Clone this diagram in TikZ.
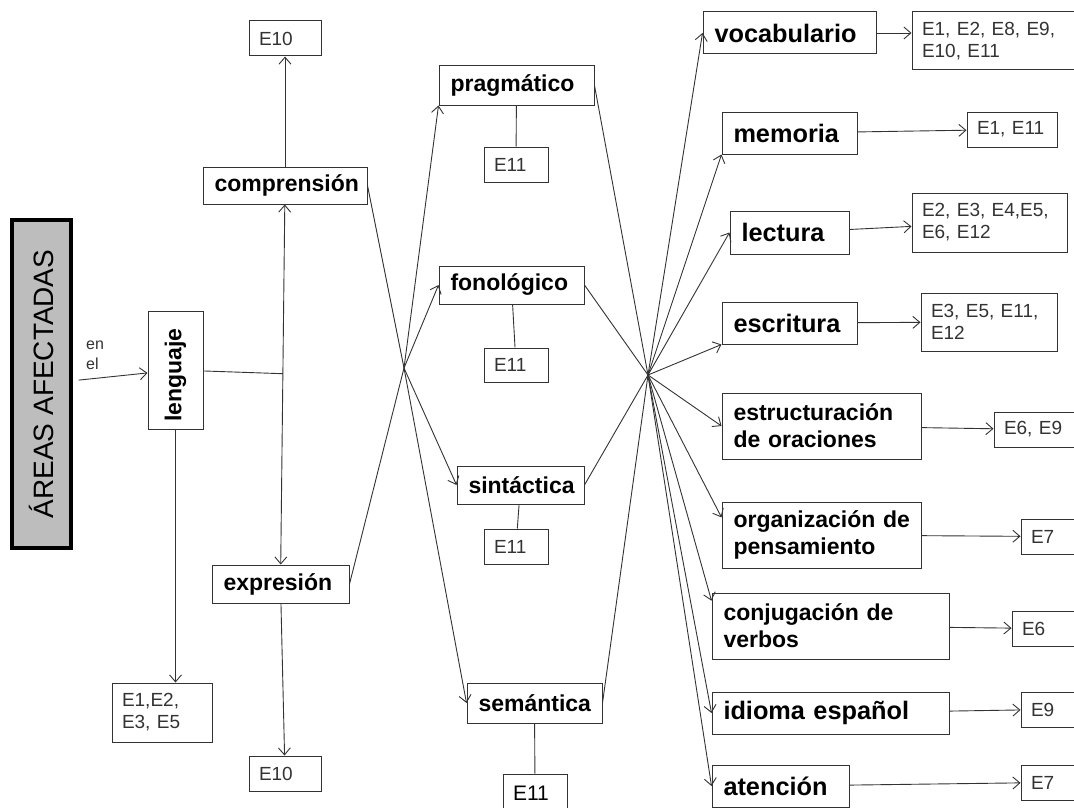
\documentclass[tikz,border=0pt]{standalone}
\usepackage{fontspec}
\setmainfont{Liberation Sans}
\usetikzlibrary{arrows.meta,calc}
\tikzset{
    box/.style={draw=black!80, line width=1pt, fill=white, inner xsep=11.5pt, inner ysep=0pt, align=left},
    lab/.style={box, font=\fontsize{23}{27}\selectfont\bfseries},
    labb/.style={lab, font=\fontsize{25.3}{29}\selectfont\bfseries},
    ref/.style={box, inner xsep=10pt, font=\fontsize{19}{22}\selectfont, text=black!80},
    sz/.style n args={3}{minimum width=#1pt, minimum height=#2pt, text width=#3pt},
    ln/.style={draw=black!80, line width=0.9pt},
    arr/.style={ln, -{Straight Barb[length=7pt,width=12pt]}},
    arrs/.style={ln, {Straight Barb[length=7pt,width=12pt]}-{Straight Barb[length=7pt,width=12pt]}}
}
\begin{document}
\begin{tikzpicture}[x=1pt, y=-1pt]
        \useasboundingbox (0,0) rectangle (1074,808);
        \node[draw=black, line width=3.5pt, fill=black!26, rotate=90, minimum width=328pt, minimum height=59pt, font=\fontsize{28}{32}\selectfont] (areas) at (41.5,384) {ÁREAS AFECTADAS\hspace{32pt}};
        \node[anchor=west, inner sep=0pt, align=left, text=black!80, font=\fontsize{16}{20}\selectfont] (enel) at (86,355) {en\\el};
        \node[box, rotate=90, inner xsep=0pt, minimum width=118pt, minimum height=55pt, font=\fontsize{23}{26}\selectfont\bfseries] (leng) at (175.5,370) {lenguaje\hspace{10pt}};
        \node[lab, sz={164}{37}{141}] (compr) at (285,185.5) {comprensión};
        \node[lab, sz={137}{38}{114}] (expr) at (280.5,584) {expresión};
        \node[ref, sz={72}{35}{52}] (e10a) at (285,38.5) {E10};
        \node[ref, sz={72}{35}{52}] (e10b) at (285,773.5) {E10};
        \node[ref, sz={100}{59}{80}] (elen) at (162,712.5) {E1,E2,\\E3, E5};
        \node[lab, sz={155}{39}{132}] (prag) at (516.5,85.5) {pragmático};
        \node[lab, sz={145}{38}{122}] (fono) at (511.5,285) {fonológico};
        \node[lab, sz={127}{38}{104}] (sint) at (520.5,485) {sintáctica};
        \node[lab, sz={135}{40}{112}] (sem) at (534.5,703) {semántica};
        \node[ref, sz={64}{35}{44}] (e11a) at (516,164.5) {E11};
        \node[ref, sz={64}{34}{44}] (e11b) at (516,365) {E11};
        \node[ref, sz={64}{35}{44}] (e11c) at (516,546.5) {E11};
        \node[ref, sz={64}{38}{44}, text=black, font=\fontsize{21}{24}\selectfont] (e11d) at (535,793) {E11};
        \node[labb, sz={173}{42}{150}] (vocab) at (789.5,33) {vocabulario};
        \node[labb, sz={135}{42}{112}] (mem) at (789.5,133) {memoria};
        \node[labb, sz={119}{43}{96}] (lect) at (789.5,232.5) {lectura};
        \node[labb, sz={135}{42}{112}] (escr) at (789.5,323) {escritura};
        \node[lab, sz={199}{66}{176}] (estr) at (821.5,426) {estructuración\\de oraciones};
        \node[lab, sz={199}{66}{176}] (org) at (821.5,535) {organización~de\\pensamiento};
        \node[lab, sz={237}{66}{214}] (conj) at (830.5,626) {conjugación de\\verbos};
        \node[labb, sz={237}{42}{214}] (idio) at (830.5,713) {idioma español};
        \node[labb, sz={137}{42}{114}] (aten) at (780.5,786) {atención};
        \node[ref, sz={164}{58}{144}] (ev) at (994,41) {E1, E2, E8, E9,\\E10, E11};
        \node[ref, sz={90}{35}{70}] (em) at (1012,129.5) {E1,~E11};
        \node[ref, sz={155}{59}{135}] (el) at (989.5,222.5) {E2, E3, E4,E5,\\E6, E12};
        \node[ref, sz={136}{58}{116}] (ee) at (989,322) {E3, E5, E11,\\E12};
        \node[ref, sz={90}{35}{70}] (eest) at (1039,429.5) {E6,~E9};
        \node[ref, sz={55}{35}{35}] (eorg) at (1048.5,536.5) {E7};
        \node[ref, sz={64}{35}{44}] (econj) at (1044,628.5) {E6};
        \node[ref, sz={55}{35}{35}] (eid) at (1048.5,709.5) {E9};
        \node[ref, sz={55}{35}{35}] (eat) at (1048.5,782.5) {E7};
        \coordinate (h1) at (404,368);
        \coordinate (h2) at (648,375);
        \coordinate (lj) at ($(compr.south)!0.47!(expr.north)$);
        \draw[arr, shorten <=6pt] (areas) -- (leng);
        \draw[ln] (leng) -- (lj);
        \draw[arr] (leng.west) -- (leng.west |- elen.north);
        \draw[arrs] (compr) -- (expr);
        \draw[arr] (compr) -- (e10a);
        \draw[arr] (expr) -- (e10b);
        \draw[ln] (compr.east) -- (h1);
        \draw[ln] (expr.east) -- (h1);
        \draw[arr] (h1) -- (prag.south west);
        \draw[arr] (h1) -- (fono.west);
        \draw[arr] (h1) -- (sint.west);
        \draw[arr] (h1) -- (sem.west);
        \draw[ln] (prag) -- (e11a);
        \draw[ln] (fono) -- (e11b);
        \draw[ln] (sint) -- (e11c);
        \draw[ln] (sem) -- (e11d);
        \draw[ln] (prag.east) -- (h2);
        \draw[ln] (fono.east) -- (h2);
        \draw[ln] (sint.east) -- (h2);
        \draw[ln] (sem.east) -- (h2);
        \draw[arr] (h2) -- (vocab.west);
        \draw[arr] (h2) -- (mem.south west);
        \draw[arr] (h2) -- (lect.west);
        \draw[arr] (h2) -- (escr.south west);
        \draw[arr] (h2) -- (estr.west);
        \draw[arr] (h2) -- (org.170);
        \draw[arr] (h2) -- (conj.168);
        \draw[arr] (h2) -- (idio.west);
        \draw[arr] (h2) -- (aten.west);
        \draw[arr] (vocab.east) -- (vocab.east -| ev.west);
        \draw[arr] (mem) -- (em);
        \draw[arr] (lect) -- (el);
        \draw[arr] (escr) -- (ee);
        \draw[arr] (estr) -- (eest);
        \draw[arr] (org) -- (eorg);
        \draw[arr] (conj) -- (econj);
        \draw[arr] (idio) -- (eid);
        \draw[arr] (aten) -- (eat);
\end{tikzpicture}
\end{document}
